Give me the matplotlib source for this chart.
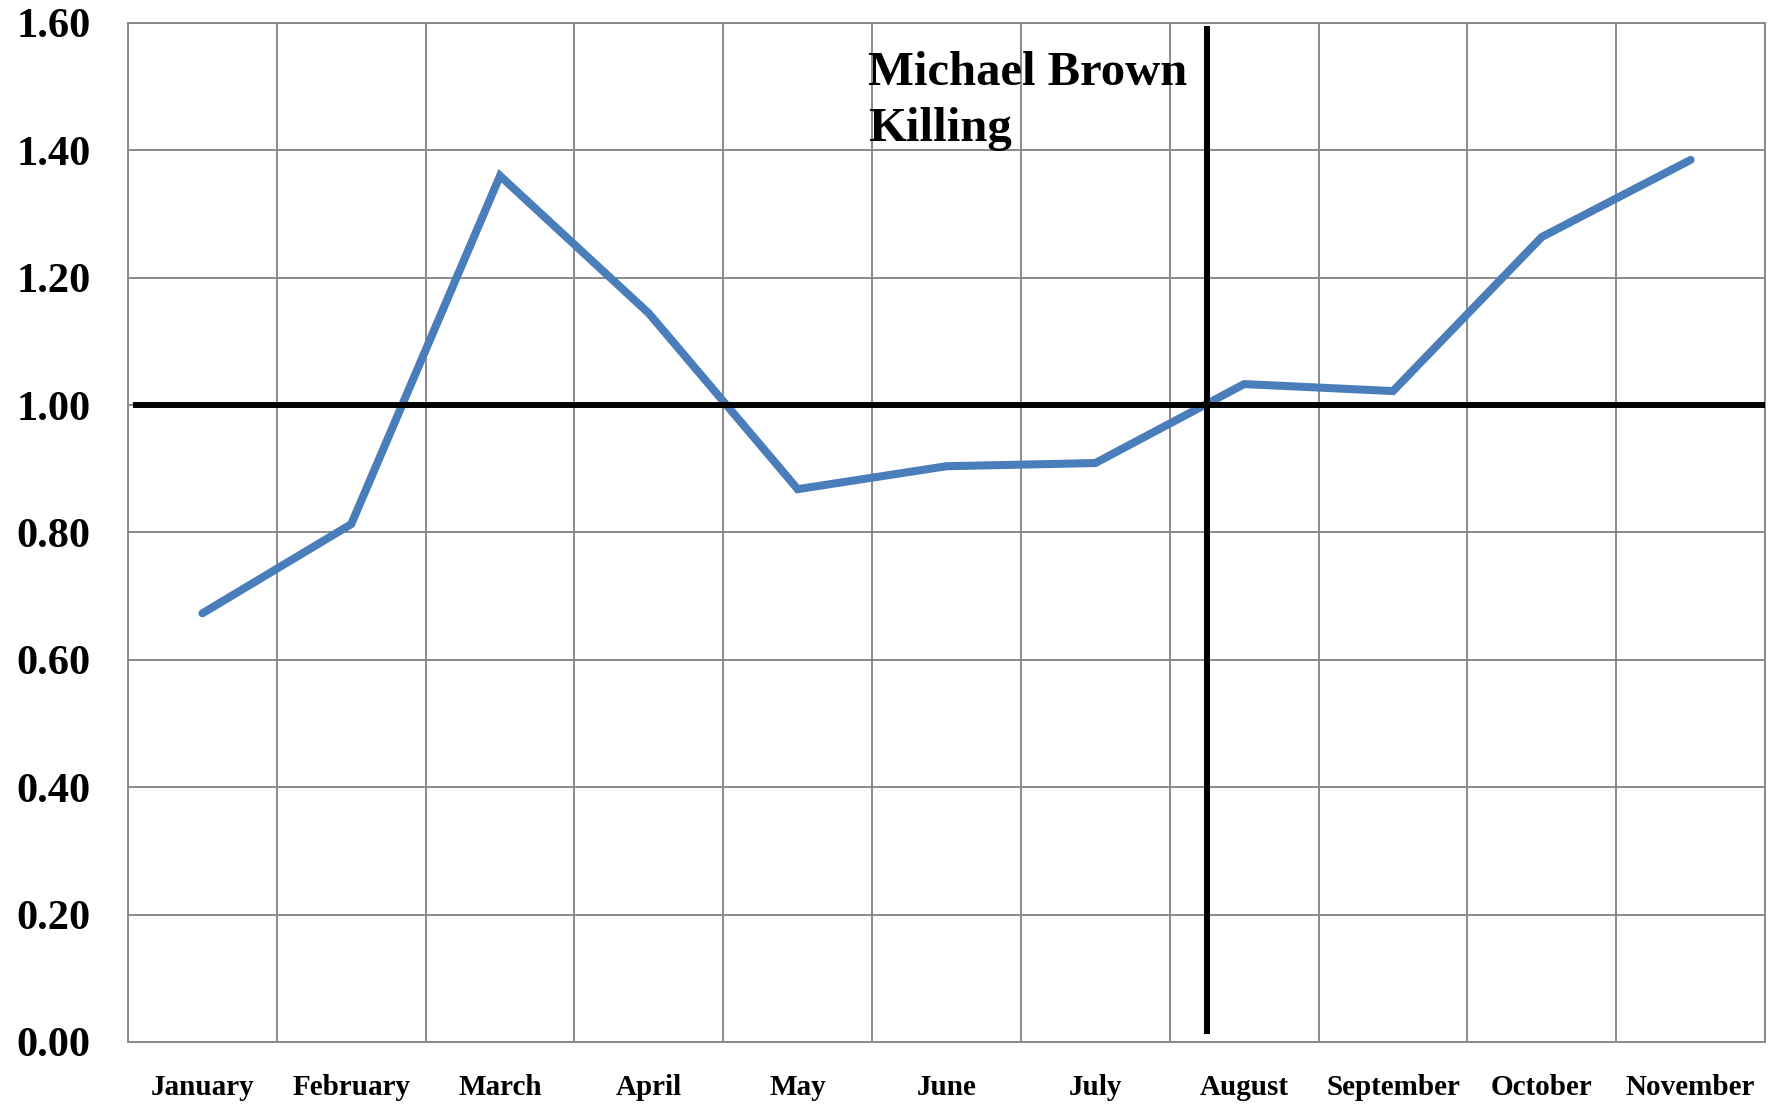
import matplotlib
matplotlib.use("Agg")
import matplotlib.pyplot as plt
import numpy as np

# Monthly index values, 2014
months = ["January", "February", "March", "April", "May", "June",
          "July", "August", "September", "October", "November"]
index_values = [0.673, 0.813, 1.360, 1.144, 0.868, 0.904,
                0.909, 1.033, 1.022, 1.264, 1.385]
y_ticks = [0.00, 0.20, 0.40, 0.60, 0.80, 1.00, 1.20, 1.40, 1.60]

baseline_value = 1.00
event_x = 6.75          # 9 August, within the August column
event_label = "Michael Brown\nKilling"

serif = ["Liberation Serif", "DejaVu Serif"]

fig = plt.figure(figsize=(17.8, 11.04), dpi=100)
ax = fig.add_axes([0.0719, 0.0562, 0.9916 - 0.0719, 0.9792 - 0.0562])

x = np.arange(len(months))
grid_color = "#8a8a8a"

ax.set_xlim(-0.5, len(months) - 0.5)
ax.set_ylim(0, 1.6)

# category boundaries as vertical grid lines, value ticks as horizontal ones
ax.set_xticks(x)
ax.set_xticks(np.arange(len(months) + 1) - 0.5, minor=True)
ax.set_yticks(y_ticks)
ax.grid(True, which="minor", axis="x", color=grid_color, linewidth=1.4)
ax.grid(True, which="major", axis="y", color=grid_color, linewidth=1.4)
ax.set_axisbelow(True)
for sp in ax.spines.values():
    sp.set_color(grid_color)
    sp.set_linewidth(1.4)

ax.set_xticklabels(months, fontfamily=serif, fontweight="bold", fontsize=21)
ax.set_yticklabels([f"{v:.2f}" for v in y_ticks], fontfamily=serif,
                   fontweight="bold", fontsize=30.5)
ax.tick_params(axis="both", which="both", length=0)
ax.tick_params(axis="x", pad=23)
ax.tick_params(axis="y", pad=27)

ax.plot(x, index_values, color="#4a7ebb", linewidth=5.8,
        solid_capstyle="round", solid_joinstyle="miter", zorder=3)

# reference level and event marker
ax.hlines(baseline_value, -0.466, len(months) - 0.5, color="black",
          linewidth=4.3, zorder=4)
ax.vlines(event_x, 0.013, 1.595, color="black", linewidth=4.3, zorder=4)

ax.text(4.473, 1.556, event_label, fontfamily=serif, fontweight="bold",
        fontsize=35, ha="left", va="top", linespacing=1.35, zorder=5)

fig.savefig("out.png", dpi=100, facecolor="white")
